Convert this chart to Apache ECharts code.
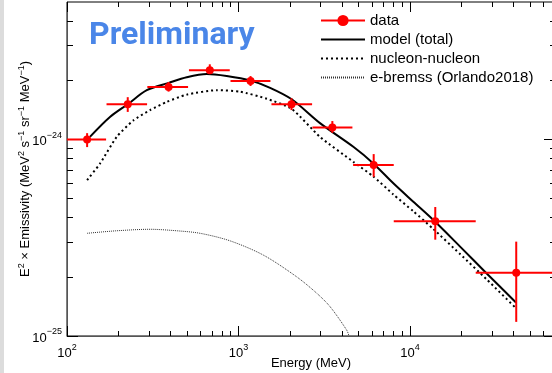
<!DOCTYPE html>
<html>
<head>
<meta charset="utf-8">
<script src="https://cdn.jsdelivr.net/npm/echarts@6/dist/echarts.min.js"></script>
<style>
  html, body { margin: 0; padding: 0; background: #fff; }
  #chart { width: 552px; height: 373px; }
</style>
</head>
<body>
<div id="chart"></div>
<script>
// measured points (MeV, MeV^2 s^-1 sr^-1 MeV^-1)
const dataEnergy = [131, 226, 391, 680, 1175, 2036, 3524, 6138, 14030, 41600];
const dataValue = [1.0e-24, 1.51e-24, 1.85e-24, 2.25e-24, 1.98e-24, 1.51e-24, 1.15e-24, 7.41e-25, 3.83e-25, 2.10e-25];
const dataEnergyLow = [100, 170, 294, 514, 898, 1556, 2698, 4656, 8035, 24150];
const dataEnergyHigh = [169, 293, 508, 889, 1535, 2685, 4613, 8035, 24150, 72000];
const dataValueLow = [9.14e-25, 1.38e-24, 1.75e-24, 2.15e-24, 1.87e-24, 1.41e-24, 1.08e-24, 6.45e-25, 3.09e-25, 1.18e-25];
const dataValueHigh = [1.076e-24, 1.64e-24, 1.96e-24, 2.41e-24, 2.10e-24, 1.62e-24, 1.24e-24, 8.42e-25, 4.53e-25, 3.02e-25];

// model curves
const modelEnergy = [136, 178, 226, 292, 392, 499, 653, 853, 1178, 1528, 2042, 2985, 4670, 6108, 7990, 10450, 13680, 19580, 27990, 41450];
const modelValue = [1.03e-24, 1.30e-24, 1.51e-24, 1.78e-24, 1.94e-24, 2.07e-24, 2.15e-24, 2.10e-24, 1.99e-24, 1.83e-24, 1.60e-24, 1.21e-24, 9.17e-25, 7.55e-25, 5.98e-25, 4.82e-25, 3.89e-25, 2.85e-25, 2.08e-25, 1.48e-25];

const nnEnergy = [131, 156, 195, 244, 305, 381, 499, 746, 1020, 1460, 2042, 2985, 4670, 6108, 7990, 10450, 13680, 19580, 27990, 40930];
const nnValue = [6.21e-25, 7.55e-25, 1.03e-24, 1.25e-24, 1.41e-24, 1.55e-24, 1.69e-24, 1.78e-24, 1.75e-24, 1.61e-24, 1.43e-24, 1.03e-24, 7.69e-25, 6.48e-25, 5.25e-25, 4.31e-25, 3.50e-25, 2.61e-25, 1.94e-25, 1.40e-25];

const bremEnergy = [131, 195, 305, 436, 597, 891, 1395, 2183, 2858, 3417, 4276, 4406];
const bremValue = [3.33e-25, 3.43e-25, 3.49e-25, 3.43e-25, 3.33e-25, 3.05e-25, 2.58e-25, 2.00e-25, 1.65e-25, 1.41e-25, 1.07e-25, 1.0e-25];

// axis ticks
const xMajorTicks = [100, 1000, 10000];
const xMinorTicks = [200, 300, 400, 500, 600, 700, 800, 900, 2000, 3000, 4000, 5000, 6000, 7000, 8000, 9000, 20000, 30000, 40000, 50000, 60000];
const yMajorTicks = [1e-25, 1e-24];
const yMinorTicks = [2e-25, 3e-25, 4e-25, 5e-25, 6e-25, 7e-25, 8e-25, 9e-25, 2e-24, 3e-24, 4e-24];

// echarts' log axis rounds very small extents to 0, so the y axis runs in units of 1e-25
const Y_UNIT_EXP = -25;
const Y_UNIT = 1e-25;
const toY = (v) => v / Y_UNIT;

const FONT = "'Liberation Sans', Arial, sans-serif";
const pairs = (xs, ys) => xs.map((x, i) => [x, toY(ys[i])]);

const chart = echarts.init(document.getElementById("chart"));

const supRich = {
  b: { fontSize: 13, fontFamily: FONT, color: "#000", lineHeight: 17, verticalAlign: "bottom" },
  s: { fontSize: 9, fontFamily: FONT, color: "#000", lineHeight: 9, verticalAlign: "top" },
};
const powText = (p) => "{b|10}{s|" + String(p).replace("-", "\u2212") + "}";
const xLabel = (v) => powText(Math.round(Math.log10(v)));
const yLabel = (v) => powText(Math.round(Math.log10(v)) + Y_UNIT_EXP);

const tickAxis = (pos, ticks, len, extra) =>
  Object.assign({
    type: "log",
    logBase: 10,
    position: pos,
    axisLine: { show: false },
    axisTick: { show: true, inside: true, length: len, customValues: ticks, lineStyle: { color: "#000", width: 1 } },
    axisLabel: { show: false },
    splitLine: { show: false },
  }, extra);

const xRange = { min: 100, max: 70000 };
const yRange = { min: toY(1e-25), max: toY(5e-24) };
const yMajor = yMajorTicks.map(toY);
const yMinor = yMinorTicks.map(toY);

function renderErrorBars(params, api) {
  const cs = params.coordSys;
  const e = api.value(0);
  const v = api.value(1);
  const pl = api.coord([api.value(2), v]);
  const pr = api.coord([api.value(3), v]);
  const pt = api.coord([e, api.value(5)]);
  const pb = api.coord([e, api.value(4)]);
  const xl = Math.max(pl[0], cs.x);
  const xr = Math.min(pr[0], cs.x + cs.width);
  const style = { stroke: "#ff0000", lineWidth: 2 };
  return {
    type: "group",
    children: [
      { type: "line", shape: { x1: xl, y1: pl[1], x2: xr, y2: pr[1] }, style },
      { type: "line", shape: { x1: pt[0], y1: pt[1], x2: pb[0], y2: pb[1] }, style },
    ],
  };
}

const noSymbol = { opacity: 0 };

const option = {
  backgroundColor: "#fff",
  animation: false,
  title: {
    text: "Preliminary",
    left: 84,
    top: 15,
    textStyle: { fontFamily: "Roboto", fontWeight: "bold", fontSize: 32, color: "#4a86e8" },
  },
  legend: {
    orient: "vertical",
    left: 320,
    top: 13,
    padding: 0,
    itemWidth: 44,
    itemHeight: 14,
    itemGap: 4,
    textStyle: { fontFamily: FONT, fontSize: 15, color: "#000" },
    data: [
      { name: "data", lineStyle: { width: 2, color: "#ff0000", opacity: 1 } },
      { name: "model (total)", itemStyle: noSymbol },
      { name: "nucleon-nucleon", itemStyle: noSymbol },
      { name: "e-bremss (Orlando2018)", itemStyle: noSymbol },
    ],
  },
  graphic: [
    { type: "rect", left: 0, top: 0, shape: { width: 4, height: 373 }, style: { fill: "#dcdcdc" }, silent: true },
  ],
  grid: {
    left: 67,
    top: 2,
    width: 488,
    height: 334,
    show: true,
    borderColor: "#000",
    borderWidth: 1,
    outerBoundsMode: "none",
  },
  xAxis: [
    Object.assign(tickAxis("bottom", xMajorTicks, 10), xRange, {
      axisLine: { show: true, lineStyle: { color: "#555", width: 1 } },
      axisLabel: {
        show: true,
        customValues: xMajorTicks,
        margin: 7,
        formatter: xLabel,
        rich: supRich,
      },
      name: "Energy (MeV)",
      nameLocation: "middle",
      nameGap: 21,
      nameMoveOverlap: false,
      nameTextStyle: { fontFamily: FONT, fontSize: 13, color: "#000" },
    }),
    Object.assign(tickAxis("bottom", xMinorTicks, 5), xRange),
    Object.assign(tickAxis("top", xMajorTicks, 10), xRange),
    Object.assign(tickAxis("top", xMinorTicks, 5), xRange),
  ],
  yAxis: [
    Object.assign(tickAxis("left", yMajor, 11), yRange, {
      axisLine: { show: true, lineStyle: { color: "#555", width: 1 } },
      axisLabel: {
        show: true,
        customValues: yMajor,
        margin: 5,
        formatter: yLabel,
        rich: supRich,
      },
      name: "E{s|2} \u00d7 Emissivity (MeV{s|2} s{s|\u22121} sr{s|\u22121} MeV{s|\u22121})",
      nameLocation: "middle",
      nameGap: 33,
      nameMoveOverlap: false,
      nameTextStyle: {
        fontFamily: FONT,
        fontSize: 13,
        color: "#000",
        lineHeight: 17,
        verticalAlign: "bottom",
        rich: supRich,
      },
    }),
    Object.assign(tickAxis("left", yMinor, 6), yRange),
    Object.assign(tickAxis("right", yMajor, 11), yRange),
    Object.assign(tickAxis("right", yMinor, 5), yRange),
  ],
  series: [
    {
      name: "data",
      type: "line",
      data: pairs(dataEnergy, dataValue),
      symbol: "circle",
      symbolSize: 8,
      itemStyle: { color: "#ff0000" },
      lineStyle: { width: 0, color: "#ff0000" },
      z: 5,
    },
    {
      name: "data",
      type: "custom",
      renderItem: renderErrorBars,
      encode: { x: 0, y: 1 },
      data: dataEnergy.map((e, i) => [e, toY(dataValue[i]), dataEnergyLow[i], dataEnergyHigh[i], toY(dataValueLow[i]), toY(dataValueHigh[i])]),
      z: 4,
    },
    {
      name: "model (total)",
      type: "line",
      data: pairs(modelEnergy, modelValue),
      smooth: 0.3,
      symbol: "none",
      lineStyle: { color: "#000", width: 2 },
      itemStyle: { color: "#000" },
      z: 3,
    },
    {
      name: "nucleon-nucleon",
      type: "line",
      data: pairs(nnEnergy, nnValue),
      smooth: 0.2,
      symbol: "none",
      lineStyle: { color: "#000", width: 2, type: [2, 3] },
      itemStyle: { color: "#000" },
      z: 3,
    },
    {
      name: "e-bremss (Orlando2018)",
      type: "line",
      data: pairs(bremEnergy, bremValue),
      smooth: 0.3,
      symbol: "none",
      lineStyle: { color: "#333", width: 1, type: [1, 1] },
      itemStyle: { color: "#333" },
      z: 3,
    },
  ],
};

chart.setOption(option);
</script>
</body>
</html>
